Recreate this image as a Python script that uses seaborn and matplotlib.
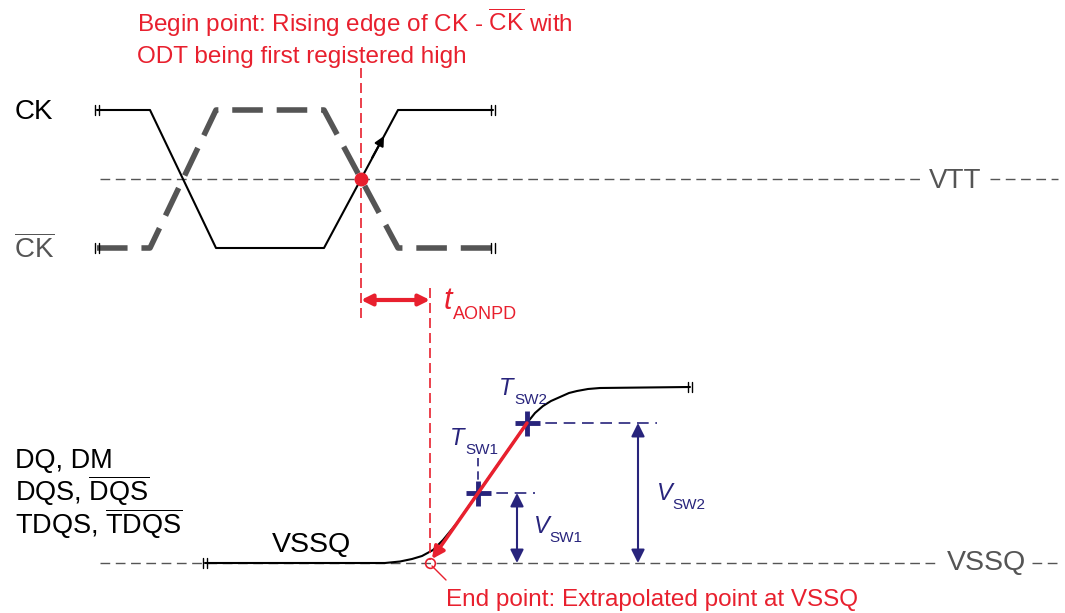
import matplotlib
matplotlib.use('Agg')
import matplotlib.pyplot as plt
import seaborn as sns

# waveform data (x = time in px-like units, y = level, screen-down)
ck_t = [97, 150, 216, 324, 398, 493]
ck_v = [110, 110, 248, 248, 110, 110]
ckb_v = [248, 248, 110, 110, 248, 248]
vtt_level = 179
vssq_level = 563

dq_t = [205, 385, 400, 412, 422, 433, 443, 457, 478, 527, 535, 543, 551, 560, 569, 577, 588, 600, 690]
dq_v = [563, 563, 561.5, 559, 556, 550, 540, 523, 493, 423, 413, 406, 401, 397, 393, 391, 389, 388, 387]

tsw_t = [478, 527]
tsw_v = [493, 423]
begin_t = 361
end_t = 430

red = '#e8202e'
navy = '#28247c'
grey = '#555555'

sns.set_theme(style='white')
plt.rcParams['font.family'] = ['Liberation Sans', 'DejaVu Sans']
plt.rcParams['mathtext.fontset'] = 'custom'
plt.rcParams['mathtext.rm'] = 'Liberation Sans'
plt.rcParams['mathtext.it'] = 'Liberation Sans:italic'

fig = plt.figure(figsize=(10.65, 6.13), dpi=100)
ax = fig.add_axes([0, 0, 1, 1])

# reference levels
ax.plot([100, 920], [vtt_level, vtt_level], color=grey, lw=1, ls=(0, (7, 4)))
ax.plot([990, 1058], [vtt_level, vtt_level], color=grey, lw=1, ls=(0, (7, 4)))
ax.plot([100, 940], [vssq_level, vssq_level], color=grey, lw=1, ls=(0, (7, 4)))
ax.plot([1032, 1058], [vssq_level, vssq_level], color=grey, lw=1, ls=(0, (7, 4)))

# clocks
sns.lineplot(x=ck_t, y=ckb_v, sort=False, estimator=None, color=grey, lw=4,
             linestyle=(0, (5.5, 2.5)), ax=ax)
sns.lineplot(x=ck_t, y=ck_v, sort=False, estimator=None, color='black', lw=1.5, ax=ax)
ax.annotate('', xy=(384, 136), xytext=(372, 158),
            arrowprops=dict(arrowstyle='-|>', color='black', lw=1.5, mutation_scale=14,
                            shrinkA=0, shrinkB=0))

# DQ waveform
sns.lineplot(x=dq_t, y=dq_v, sort=False, estimator=None, color='black', lw=1.5, ax=ax)


def brk(x, y):
    for dx in (-1.8, 1.8):
        ax.plot([x + dx, x + dx], [y - 5, y + 5], color='black', lw=1)


for bx, by in [(97, 110), (493, 110), (97, 248), (493, 248), (205, 563), (690, 387)]:
    brk(bx, by)

# timing markers
ax.plot([begin_t, begin_t], [68, 322], color=red, lw=1.2, ls=(0, (6, 3)))
ax.plot([end_t, end_t], [288, 560], color=red, lw=1.2, ls=(0, (6, 3)))
ax.plot(begin_t, vtt_level, 'o', ms=9, color=red)
ax.annotate('', xy=(end_t, 300), xytext=(begin_t, 300),
            arrowprops=dict(arrowstyle='<|-|>', color=red, lw=3, mutation_scale=16,
                            shrinkA=0, shrinkB=0))

# extrapolation line
ax.annotate('', xy=(end_t + 2, 559), xytext=(tsw_t[1], tsw_v[1]),
            arrowprops=dict(arrowstyle='-|>', color=red, lw=2.5, mutation_scale=18,
                            shrinkA=0, shrinkB=0))
ax.plot(end_t, vssq_level, 'o', mfc='none', mec=red, ms=7, mew=1.2)
ax.plot([432, 446], [566, 580], color=red, lw=1)

# switching points
ax.plot([tsw_t[1], 657], [tsw_v[1], tsw_v[1]], color=navy, lw=1.2, ls=(0, (7, 4)))
ax.plot([tsw_t[0], 535], [tsw_v[0], tsw_v[0]], color=navy, lw=1.2, ls=(0, (7, 4)))
ax.plot([tsw_t[0], tsw_t[0]], [458, tsw_v[0]], color=navy, lw=1.2, ls=(0, (5, 3)))
ax.plot(tsw_t, tsw_v, '+', ms=18, mew=3.5, color=navy)
for xa, ya in [(517, tsw_v[0]), (638, tsw_v[1])]:
    ax.annotate('', xy=(xa, vssq_level), xytext=(xa, ya),
                arrowprops=dict(arrowstyle='<|-|>', color=navy, lw=1.5, mutation_scale=20,
                                shrinkA=0, shrinkB=0))

# text
ax.text(137, 32, r'Begin point: Rising edge of CK - $\overline{\mathrm{CK}}$ with', color=red,
        fontsize=17.5, va='baseline')
ax.text(137, 63, 'ODT being first registered high', color=red, fontsize=17.5, va='baseline')
ax.text(15, 119, 'CK', color='black', fontsize=20, va='baseline')
ax.text(14, 258, r'$\overline{\mathrm{CK}}$', color=grey, fontsize=20, va='baseline')
ax.text(929, 188, 'VTT', color=grey, fontsize=20, va='baseline')
ax.text(444, 309, 't', color=red, fontsize=22, style='italic', va='baseline')
ax.text(453, 319, 'AONPD', color=red, fontsize=13, va='baseline')

ax.text(15, 468, 'DQ, DM', color='black', fontsize=19.5, va='baseline')
ax.text(15, 501, r'DQS, $\overline{\mathrm{DQS}}$', color='black', fontsize=19.5, va='baseline')
ax.text(15, 534, r'TDQS, $\overline{\mathrm{TDQS}}$', color='black', fontsize=19.5, va='baseline')
ax.text(272, 552, 'VSSQ', color='black', fontsize=20.5, va='baseline')
ax.text(947, 570, 'VSSQ', color=grey, fontsize=20.5, va='baseline')

for tx, ty, big, sub in [(450, 445, 'T', 'SW1'), (499, 395, 'T', 'SW2'),
                         (534, 533, 'V', 'SW1'), (657, 500, 'V', 'SW2')]:
    ax.text(tx, ty, big, color=navy, fontsize=17, style='italic', va='baseline')
    ax.text(tx + 15, ty + 9, sub, color=navy, fontsize=11, va='baseline')

ax.text(446, 606, 'End point: Extrapolated point at VSSQ', color=red, fontsize=17.5,
        va='baseline')

ax.set_xlim(0, 1065)
ax.set_ylim(613, 0)
ax.axis('off')
fig.savefig('out.png', dpi=100)
